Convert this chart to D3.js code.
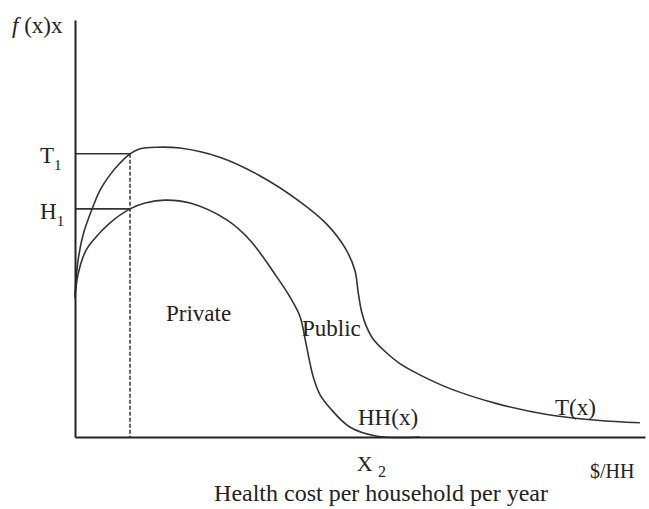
<!DOCTYPE html>
<html>
<head>
<meta charset="utf-8">
<script src="https://cdn.jsdelivr.net/npm/d3@7"></script>
<style>
  html, body { margin: 0; padding: 0; background: #fff; }
  svg { display: block; }
  text { font-family: "Liberation Serif", "Times New Roman", serif; fill: #222; }
</style>
</head>
<body>
<svg id="chart" width="649" height="509"></svg>
<script>
// Total health-cost distribution T(x) and household (private) share HH(x)
const costT = [0, 0.5, 1.4, 3.0, 4.4, 6.1, 7.9, 9.65, 11.4, 14.4, 18.4, 25.4, 32.5, 39.5, 44.2, 47.4, 49.1, 49.7, 50.3, 51.1, 52.3, 54.4, 57.0, 60.5, 65.8, 74.0, 82.8, 91.6, 99.1];
const valueT = [34.1, 42.0, 48.4, 54.7, 59.2, 62.8, 65.7, 67.9, 69.1, 69.5, 69.3, 67.1, 62.6, 56.4, 51.0, 45.3, 40.0, 34.5, 29.9, 26.6, 23.5, 20.5, 17.6, 14.9, 11.6, 8.0, 5.4, 4.0, 3.4];

const costHH = [0, 0.5, 1.8, 3.2, 6.1, 9.65, 12.3, 15.8, 20.2, 26.7, 30.7, 35.4, 37.7, 39.5, 40.4, 41.1, 41.8, 43.0, 44.7, 48.2, 53.0, 60.5];
const valueHH = [33.3, 38.8, 44.4, 47.2, 51.3, 54.7, 56.1, 56.8, 56.1, 52.0, 47.2, 38.4, 33.6, 28.8, 23.3, 18.5, 14.4, 10.1, 7.0, 2.4, 0.2, 0];

// Reference levels and points on the axes
const x1 = 9.65;          // cost where the dashed guide sits
const levelT1 = 67.9;     // T1
const levelH1 = 54.7;     // H1
const x2 = 52;            // X2

const svg = d3.select("#chart");
const x = d3.scaleLinear().domain([0, 100]).range([75, 645]);
const y = d3.scaleLinear().domain([0, 100]).range([437, 20]);

const ink = "#333";

// Guide lines for T1, H1 and the dashed vertical at x1
svg.append("line")
  .attr("x1", x(0)).attr("x2", x(x1)).attr("y1", y(levelT1)).attr("y2", y(levelT1))
  .attr("stroke", ink).attr("stroke-width", 1.5);
svg.append("line")
  .attr("x1", x(0)).attr("x2", x(x1)).attr("y1", y(levelH1)).attr("y2", y(levelH1))
  .attr("stroke", ink).attr("stroke-width", 1.8);
svg.append("line")
  .attr("x1", x(x1)).attr("x2", x(x1)).attr("y1", y(levelT1)).attr("y2", y(0))
  .attr("stroke", ink).attr("stroke-width", 1.5).attr("stroke-dasharray", "4,2");

// Curves
const line = d3.line().x(d => x(d[0])).y(d => y(d[1])).curve(d3.curveCatmullRom.alpha(0.5));
svg.append("path")
  .datum(d3.zip(costT, valueT))
  .attr("d", line).attr("fill", "none").attr("stroke", ink).attr("stroke-width", 1.6);
svg.append("path")
  .datum(d3.zip(costHH, valueHH))
  .attr("d", line).attr("fill", "none").attr("stroke", ink).attr("stroke-width", 1.6);

// Axes (domain lines only)
svg.append("g").attr("transform", `translate(0,${y(0)})`)
  .call(d3.axisBottom(x).tickValues([]).tickSizeOuter(0));
svg.append("g").attr("transform", `translate(${x(0)},0)`)
  .call(d3.axisLeft(y).tickValues([]).tickSizeOuter(0));
svg.selectAll(".domain").attr("stroke", "#222").attr("stroke-width", 2);

// Axis labels
const yLab = svg.append("text").attr("x", 12).attr("y", 33).attr("font-size", 23);
yLab.append("tspan").attr("font-style", "italic").text("f");
yLab.append("tspan").text(" (x)x");

function subLabel(px, py, main, sub) {
  const t = svg.append("text").attr("x", px).attr("y", py).attr("font-size", 23);
  t.append("tspan").text(main);
  t.append("tspan").attr("font-size", 15).attr("dy", 7).text(sub);
}
subLabel(40, y(levelT1) + 9, "T", "1");
subLabel(40, y(levelH1) + 10, "H", "1");

const xl = svg.append("text").attr("x", x(x2)).attr("y", 471).attr("font-size", 22).attr("text-anchor", "middle");
xl.append("tspan").text("X ");
xl.append("tspan").attr("font-size", 16).attr("dy", 6).text("2");

svg.append("text").attr("x", 590).attr("y", 478).attr("font-size", 20).text("$/HH");
svg.append("text").attr("x", 381).attr("y", 501).attr("font-size", 24)
  .attr("text-anchor", "middle").text("Health cost per household per year");

// Region and curve labels
svg.append("text").attr("x", 166).attr("y", 321).attr("font-size", 23).text("Private");
svg.append("text").attr("x", 302).attr("y", 336).attr("font-size", 23).text("Public");
svg.append("text").attr("x", 358).attr("y", 425).attr("font-size", 23).text("HH(x)");
svg.append("text").attr("x", 555).attr("y", 415).attr("font-size", 23).text("T(x)");
</script>
</body>
</html>
